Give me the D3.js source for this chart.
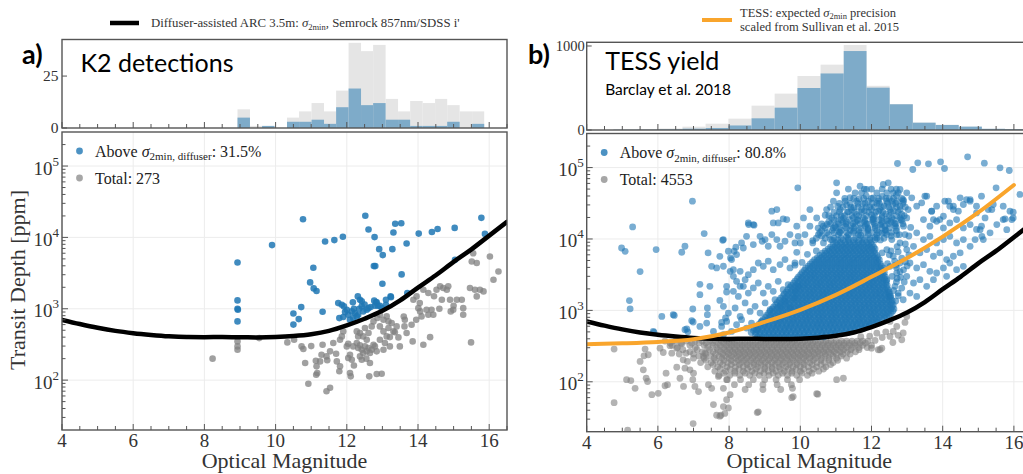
<!DOCTYPE html>
<html>
<head>
<meta charset="utf-8">
<script src="https://cdn.jsdelivr.net/npm/d3@7"></script>
<style>
  html, body { margin: 0; padding: 0; background: #fff; }
  svg { display: block; font-family: "Liberation Serif", "Times New Roman", serif; }
</style>
</head>
<body>
<svg id="chart" width="1023" height="474"></svg>
<script>
// ---------------------------------------------------------------------------
// Axis ticks
// ---------------------------------------------------------------------------
const magTicks = [4, 6, 8, 10, 12, 14, 16];
const magMinorTicks = [4.5, 5, 5.5, 6.5, 7, 7.5, 8.5, 9, 9.5, 10.5, 11, 11.5, 12.5, 13, 13.5, 14.5, 15, 15.5, 16.5];
const depthTicks = [1e2, 1e3, 1e4, 1e5];
const depthMinorTicks = [30, 40, 50, 60, 70, 80, 90, 200, 300, 400, 500, 600, 700, 800, 900,
  2000, 3000, 4000, 5000, 6000, 7000, 8000, 9000, 20000, 30000, 40000, 50000, 60000, 70000, 80000, 90000, 200000];
const k2HistTicks = [0, 25];
const tessHistTicks = [0, 1000];

// ---------------------------------------------------------------------------
// Precision curves (optical magnitude -> 2-minute precision, ppm)
// ---------------------------------------------------------------------------
const diffuserMag = [4, 4.5, 5, 5.5, 6, 6.5, 7, 7.5, 8, 8.5, 9, 9.5, 10, 10.5, 11, 11.5, 12, 12.5, 13, 13.5, 14, 14.5, 15, 15.5, 16, 16.5];
const diffuserPpm = [700, 612, 542, 490, 455, 430, 411, 401, 399, 402, 398, 397, 402, 415, 440, 490, 585, 725, 935, 1310, 1980, 2950, 4550, 6800, 10600, 16500];
const tessMag = [4, 5, 6, 7, 8, 9, 10, 11, 12, 13, 14, 15, 16];
const tessPpm = [336, 346, 362, 395, 490, 690, 1020, 1650, 2950, 5400, 10800, 23500, 57000];

// ---------------------------------------------------------------------------
// Magnitude histograms (bin edges, total counts, counts above the curve)
// ---------------------------------------------------------------------------
const k2BinEdges = [8.93, 9.28, 9.62, 9.97, 10.32, 10.66, 11.01, 11.36, 11.70, 12.05, 12.40,
  12.74, 13.09, 13.44, 13.78, 14.13, 14.48, 14.82, 15.17, 15.52, 15.86];
const k2TotalCounts = [9, 1, 1, 0, 5, 8, 12, 8, 18, 41, 37, 40, 14, 8, 13, 12, 14, 11, 8, 8];
const k2AboveCounts = [5, 0, 1, 0, 3, 3, 4, 2, 10, 19, 11, 12, 4, 4, 1, 1, 1, 3, 0, 2];

const tessBinEdges = [4.75, 5.40, 6.04, 6.69, 7.34, 7.98, 8.63, 9.28, 9.92, 10.57, 11.22,
  11.86, 12.51, 13.16, 13.80, 14.45, 15.10, 15.75, 16.39, 17.04, 17.69];
const tessTotalCounts = [6, 10, 18, 40, 75, 135, 290, 433, 643, 778, 1012, 526, 308, 87, 62, 40, 14, 10, 4, 2];
const tessAboveCounts = [3, 4, 8, 16, 24, 54, 139, 266, 500, 673, 940, 504, 306, 87, 60, 40, 14, 10, 4, 2];

// ---------------------------------------------------------------------------
// K2 detections: [optical magnitude, transit depth ppm]
// ---------------------------------------------------------------------------
const k2Above = [
  [8.93,4460],[8.93,1310],[8.93,1000],[8.94,970],[8.93,665],
  [9.90,7800],[10.77,18000],[10.50,860],[10.50,600],[10.65,716],[10.72,1055],[10.97,2340],[11.06,3750],
  [11.07,1930],[11.15,1770],[11.32,908],[11.39,8770],[11.65,9160],[11.89,10200],[12.52,20100],[12.61,12900],
  [12.78,10100],[12.76,3960],[12.80,3960],[12.91,6850],[13.01,5650],[13.00,2240],[13.31,11700],[13.36,15500],
  [13.53,15800],[13.28,6850],[13.54,3030],[13.68,8230],[14.02,11300],[14.39,11900],[14.55,13100],[15.03,13600],
  [15.78,18800],[15.88,11200],[15.04,4850],[13.70,1660],[13.24,1455],[13.10,1335],[13.10,1140],[12.82,1228],
  [12.87,1100],[11.76,1200],[11.86,1140],[11.92,1080],[12.17,1230],[12.31,1490],[12.37,1340],[12.42,1270],
  [12.61,1020],[12.84,1230],[13.23,1490],[12.98,1020],[11.79,740],[11.90,766],[12.04,825],[12.14,918],
  [12.23,870],[12.32,825],[12.46,918],[12.56,968],[12.67,1057],[12.79,1100],[12.09,702],[12.18,740],
  [12.28,782],[12.00,968],[12.42,1080],[12.77,1300],[12.93,1100],[11.95,900],[12.20,1000],[12.35,1000],[12.50,1150]
];
const k2Total = [
  [8.23,200],[8.93,349],[8.93,297],[8.93,267],[9.54,388],[10.33,338],[10.52,368],[10.73,297],[10.78,273],
  [10.83,174],[10.92,89],[11.13,187],[11.15,156],[11.17,126],[11.14,119],[11.25,183],[11.32,313],[11.29,227],
  [11.43,70],[11.53,78],[11.43,215],[11.53,253],[11.62,331],[11.70,234],[11.72,183],[11.79,133],[11.81,156],
  [11.86,410],[11.90,482],[11.81,368],[12.00,297],[12.04,324],[12.09,227],[12.14,193],[12.04,204],[12.09,126],
  [12.11,113],[12.18,297],[12.28,331],[12.32,282],[12.37,307],[12.42,267],[12.46,240],[12.51,297],[12.56,253],
  [12.61,282],[12.65,240],[12.70,267],[12.75,313],[12.37,215],[12.42,193],[12.28,482],[12.37,457],[12.51,537],
  [12.61,457],[12.70,566],[12.75,665],[12.65,174],[12.63,113],[12.84,122],[12.98,123],[12.79,297],[12.84,253],
  [12.93,368],[13.03,267],[13.07,331],[13.12,410],[13.17,537],[13.26,631],[13.31,482],[13.40,566],[13.21,297],
  [13.45,397],[13.49,297],[13.63,702],[13.62,566],[13.68,457],[13.82,597],[13.85,349],[12.86,741],[12.93,824],
  [13.03,702],[13.12,782],[13.17,665],[13.87,1340],[13.96,1490],[14.06,918],[14.10,782],[14.01,1020],[14.15,1850],
  [14.29,1660],[14.24,968],[14.29,825],[14.38,968],[14.43,825],[14.52,1850],[14.62,2060],[14.67,1340],[14.71,1950],
  [14.81,1850],[14.85,2060],[14.90,1340],[14.92,918],[14.99,968],[15.09,1340],[15.23,1340],[15.27,1020],[15.27,825],
  [15.46,1950],[15.60,1850],[15.65,1490],[15.74,1850],[15.84,1750],[15.51,4600],[15.55,6000],[15.65,4370],
  [16.02,5400],[16.12,2550],[16.26,3330],[15.49,338],[14.34,400],[14.15,313],[12.46,410],[12.56,368],[12.32,410],
  [12.93,566],[13.03,482],[13.21,401],[13.35,468],[14.05,1200],[14.45,1500],[13.95,700],[14.60,1000],[15.00,1100],
  [13.60,780],[11.00,300],[11.45,190],[12.20,160],[12.55,200]
];

// ---------------------------------------------------------------------------
// TESS yield: dense rows [depth ppm, [magnitudes]] and scattered points
// ---------------------------------------------------------------------------
const tessCoreRows = [
  [427, [8.8,8.93,9.05,9.18,9.3,9.42,9.55,9.67,9.8,9.92,10.05,10.17,10.3,10.42,10.55,10.67]],
  [490, [8.62,8.75,8.87,9.0,9.12,9.24,9.37,9.49,9.61,9.74,9.86,9.98,10.11,10.23,10.36,10.48,10.6,10.73,10.85,10.98,11.1,11.22,11.35]],
  [562, [8.7,8.82,8.95,9.07,9.2,9.32,9.44,9.57,9.69,9.81,9.94,10.06,10.18,10.3,10.43,10.55,10.67,10.8,10.92,11.04,11.17,11.29,11.41,11.54,11.66,11.78]],
  [646, [8.85,8.98,9.1,9.23,9.35,9.47,9.6,9.72,9.84,9.97,10.09,10.21,10.34,10.46,10.58,10.71,10.83,10.95,11.08,11.2,11.32,11.45,11.57,11.69,11.82,11.94,12.06]],
  [741, [8.95,9.08,9.2,9.33,9.45,9.57,9.7,9.82,9.94,10.07,10.19,10.31,10.44,10.56,10.68,10.81,10.93,11.05,11.18,11.3,11.42,11.55,11.67,11.79,11.92,12.04,12.16,12.29]],
  [851, [9.05,9.17,9.3,9.42,9.54,9.67,9.79,9.91,10.04,10.16,10.28,10.41,10.53,10.65,10.78,10.9,11.02,11.15,11.27,11.39,11.52,11.64,11.76,11.89,12.01,12.13,12.26,12.38,12.5]],
  [977, [9.15,9.28,9.4,9.52,9.65,9.77,9.89,10.02,10.14,10.26,10.39,10.51,10.63,10.76,10.88,11.0,11.13,11.25,11.37,11.5,11.62,11.74,11.87,11.99,12.11,12.24,12.36,12.48,12.6]],
  [1122, [9.25,9.37,9.5,9.62,9.74,9.87,9.99,10.11,10.24,10.36,10.48,10.61,10.73,10.85,10.98,11.1,11.22,11.35,11.47,11.59,11.72,11.84,11.96,12.09,12.21,12.33,12.46,12.58]],
  [1288, [9.35,9.47,9.6,9.72,9.84,9.97,10.09,10.21,10.34,10.46,10.58,10.71,10.83,10.95,11.08,11.2,11.32,11.45,11.57,11.69,11.82,11.94,12.06,12.19,12.31,12.43,12.56]],
  [1479, [9.45,9.58,9.7,9.82,9.95,10.07,10.19,10.32,10.44,10.56,10.69,10.81,10.93,11.06,11.18,11.3,11.43,11.55,11.67,11.8,11.92,12.04,12.17,12.29,12.41,12.53]],
  [1698, [9.55,9.67,9.8,9.92,10.04,10.17,10.29,10.41,10.54,10.66,10.78,10.91,11.03,11.15,11.28,11.4,11.52,11.65,11.77,11.89,12.02,12.14,12.26,12.39,12.5]],
  [1950, [9.65,9.78,9.9,10.02,10.15,10.27,10.39,10.52,10.64,10.76,10.89,11.01,11.13,11.26,11.38,11.5,11.63,11.75,11.87,12.0,12.12,12.24,12.37,12.47]],
  [2239, [9.75,9.87,10.0,10.12,10.24,10.37,10.49,10.61,10.74,10.86,10.98,11.11,11.23,11.35,11.48,11.6,11.72,11.85,11.97,12.09,12.22,12.34,12.44]],
  [2570, [9.85,9.98,10.1,10.22,10.35,10.47,10.59,10.72,10.84,10.96,11.09,11.21,11.33,11.46,11.58,11.7,11.83,11.95,12.07,12.2,12.32,12.42]],
  [2951, [9.95,10.07,10.2,10.32,10.44,10.57,10.69,10.81,10.94,11.06,11.18,11.31,11.43,11.55,11.68,11.8,11.92,12.05,12.17,12.29,12.39]],
  [3388, [10.05,10.18,10.3,10.42,10.55,10.67,10.79,10.92,11.04,11.16,11.29,11.41,11.53,11.66,11.78,11.9,12.03,12.15,12.27,12.36]],
  [3890, [10.15,10.28,10.4,10.52,10.65,10.77,10.89,11.02,11.14,11.26,11.39,11.51,11.63,11.76,11.88,12.0,12.13,12.25,12.33]],
  [4467, [10.28,10.4,10.53,10.65,10.77,10.9,11.02,11.14,11.27,11.39,11.51,11.64,11.76,11.88,12.01,12.13,12.25]],
  [5129, [10.4,10.52,10.65,10.77,10.89,11.02,11.14,11.26,11.39,11.51,11.63,11.76,11.88,12.0,12.13,12.22]],
  [5888, [10.55,10.67,10.8,10.92,11.04,11.17,11.29,11.41,11.54,11.66,11.78,11.91,12.03,12.15]],
  [6761, [10.7,10.82,10.95,11.07,11.19,11.32,11.44,11.56,11.69,11.81,11.93,12.06]],
  [7762, [10.85,10.97,11.1,11.22,11.34,11.47,11.59,11.71,11.84,11.96,12.06]],
  [8913, [11.0,11.12,11.25,11.37,11.49,11.62,11.74,11.86,11.98]],
  [10230, [10.45,10.7,10.95,11.15,11.35,11.55,11.75,11.95,12.15,12.35]],
  [11530, [9.71,10.13,10.51,10.79,11.07,11.35,11.63,11.91,12.15,12.43,12.71,12.94]],
  [13200, [10.6,10.9,11.15,11.4,11.65,11.9,12.15,12.4]],
  [15100, [9.9,10.27,10.65,10.97,11.26,11.54,11.82,12.1,12.38,12.66,12.9]],
  [17400, [10.8,11.05,11.3,11.55,11.8,12.05,12.3,12.55]],
  [19700, [10.09,10.46,10.88,11.21,11.49,11.77,12.05,12.29,12.57,12.8,12.99]],
  [25800, [10.27,10.74,11.12,11.44,11.72,12.0,12.24,12.52,12.8,13.03]],
  [33800, [10.93,11.26,11.58,11.91,12.19,12.43,12.57,12.71,12.9]],
  [44300, [11.02,11.54,11.72,12.15,12.43,12.61,12.75]]
];

// rows lying between the rows above, where the cloud is densest
const tessCoreMidRows = [
  [458, [8.74,8.87,8.99,9.12,9.24,9.36,9.49,9.61,9.73,9.86,9.98,10.11,10.23,10.36,10.48,10.61,10.73,10.86,10.97]],
  [525, [8.68,8.81,8.93,9.06,9.18,9.3,9.43,9.55,9.67,9.8,9.92,10.05,10.17,10.29,10.42,10.54,10.66,10.79,10.91,11.03,11.16,11.28,11.4,11.52]],
  [603, [8.76,8.89,9.01,9.13,9.26,9.38,9.51,9.63,9.75,9.88,10.0,10.12,10.25,10.37,10.49,10.62,10.74,10.86,10.99,11.11,11.23,11.36,11.48,11.6,11.73,11.85,11.94]],
  [692, [8.91,9.04,9.16,9.29,9.41,9.53,9.66,9.78,9.9,10.03,10.15,10.27,10.4,10.52,10.64,10.77,10.89,11.01,11.14,11.26,11.38,11.51,11.63,11.75,11.88,12.0,12.12,12.2]],
  [795, [9.01,9.14,9.26,9.39,9.51,9.63,9.76,9.88,10.0,10.13,10.25,10.37,10.5,10.62,10.74,10.87,10.99,11.11,11.24,11.36,11.48,11.61,11.73,11.85,11.98,12.1,12.22,12.35,12.43]],
  [912, [9.11,9.23,9.36,9.48,9.6,9.73,9.85,9.97,10.1,10.22,10.34,10.47,10.59,10.71,10.84,10.96,11.08,11.21,11.33,11.45,11.58,11.7,11.82,11.95,12.07,12.19,12.32,12.44,12.55]],
  [1047, [9.21,9.34,9.46,9.58,9.71,9.83,9.95,10.08,10.2,10.32,10.45,10.57,10.69,10.82,10.94,11.06,11.19,11.31,11.43,11.56,11.68,11.8,11.93,12.05,12.17,12.3,12.42,12.54,12.63]],
  [1202, [9.31,9.44,9.56,9.68,9.81,9.93,10.05,10.18,10.3,10.42,10.55,10.67,10.79,10.92,11.04,11.16,11.29,11.41,11.53,11.66,11.78,11.9,12.03,12.15,12.27,12.4,12.52,12.61]],
  [1380, [9.41,9.53,9.66,9.78,9.9,10.03,10.15,10.27,10.4,10.52,10.64,10.77,10.89,11.01,11.14,11.26,11.38,11.51,11.63,11.75,11.88,12.0,12.12,12.25,12.37,12.49,12.58]],
  [1585, [9.51,9.63,9.76,9.88,10.0,10.13,10.25,10.37,10.5,10.62,10.74,10.87,10.99,11.11,11.24,11.36,11.48,11.61,11.73,11.85,11.98,12.1,12.22,12.35,12.47,12.54]],
  [1820, [9.61,9.73,9.86,9.98,10.1,10.23,10.35,10.47,10.6,10.72,10.84,10.97,11.09,11.21,11.34,11.46,11.58,11.71,11.83,11.95,12.08,12.2,12.32,12.44,12.5]],
  [2090, [9.71,9.83,9.96,10.08,10.2,10.33,10.45,10.57,10.7,10.82,10.94,11.07,11.19,11.31,11.44,11.56,11.68,11.81,11.93,12.05,12.18,12.3,12.42]],
  [2400, [9.81,9.93,10.06,10.18,10.3,10.43,10.55,10.67,10.8,10.92,11.04,11.17,11.29,11.41,11.54,11.66,11.78,11.91,12.03,12.15,12.28,12.4]],
  [2754, [9.91,10.03,10.16,10.28,10.4,10.53,10.65,10.77,10.9,11.02,11.14,11.27,11.39,11.51,11.64,11.76,11.88,12.01,12.13,12.25,12.36]],
  [3162, [10.01,10.13,10.26,10.38,10.5,10.63,10.75,10.87,11.0,11.12,11.24,11.37,11.49,11.61,11.74,11.86,11.98,12.11,12.23,12.33]],
  [3630, [10.11,10.23,10.36,10.48,10.6,10.73,10.85,10.97,11.1,11.22,11.34,11.47,11.59,11.71,11.84,11.96,12.08,12.21,12.3]],
  [4169, [10.22,10.34,10.47,10.59,10.71,10.84,10.96,11.08,11.21,11.33,11.45,11.58,11.7,11.82,11.95,12.07,12.19,12.28]],
  [4786, [10.34,10.46,10.59,10.71,10.83,10.96,11.08,11.2,11.33,11.45,11.57,11.7,11.82,11.94,12.07,12.18]],
  [5495, [10.48,10.6,10.73,10.85,10.97,11.1,11.22,11.34,11.47,11.59,11.71,11.84,11.96,12.08,12.18]],
  [6310, [10.62,10.74,10.87,10.99,11.11,11.24,11.36,11.48,11.61,11.73,11.85,11.98,12.1]],
  [7244, [10.78,10.9,11.03,11.15,11.27,11.4,11.52,11.64,11.77,11.89,12.01,12.1]],
  [8318, [10.92,11.04,11.17,11.29,11.41,11.54,11.66,11.78,11.91,12.02]],
  [9700, [10.9,11.05,11.2,11.35,11.5,11.65,11.8,11.95,12.1,12.25]],
  [12300, [10.55,10.75,10.95,11.12,11.3,11.48,11.66,11.84,12.02,12.2,12.38,12.56]],
  [14300, [10.7,10.92,11.1,11.3,11.5,11.7,11.9,12.1,12.3,12.5,12.7]],
  [16300, [10.6,10.85,11.08,11.28,11.48,11.68,11.88,12.08,12.28,12.48,12.68,12.88]],
  [18600, [10.95,11.15,11.38,11.6,11.82,12.02,12.22,12.42,12.62,12.82]],
  [21200, [10.8,11.02,11.25,11.45,11.65,11.86,12.08,12.3,12.5,12.7,12.92]],
  [23800, [11.1,11.32,11.52,11.72,11.92,12.12,12.32,12.55,12.75]],
  [28000, [10.85,11.2,11.42,11.62,11.85,12.08,12.28,12.48,12.7,12.95]],
  [31500, [11.1,11.4,11.62,11.82,12.02,12.22,12.45,12.68,12.88]],
  [37000, [11.25,11.5,11.78,12.0,12.2,12.4,12.62,12.85]],
  [50000, [11.35,11.8,12.0,12.3,12.55,12.7]]
];

const tessAboveScatter = [
  [4.98,7480],[5.08,6710],[5.29,14760],[5.50,3490],[5.20,1370],[5.22,1050],[5.95,7100],[6.11,824],[6.43,871],
  [6.67,6520],[6.76,7910],[6.97,33800],[6.98,1045],[6.99,687],[6.76,536],[6.84,501],[7.18,2320],[7.18,1660],
  [7.30,11900],[7.39,1080],[7.39,871],[7.46,2170],[7.41,6370],[7.51,4140],[7.65,3930],[7.74,5710],[7.82,9590],
  [7.74,1380],[7.79,679],[7.90,782],[7.93,1810],[7.98,6730],[8.04,5420],[8.12,3720],[8.12,3000],[8.21,2550],
  [8.31,2170],[8.19,7660],[8.40,7480],[8.55,15900],[8.70,15600],[8.87,10900],[8.93,9290],[9.20,24500],
  [9.34,25800],[9.24,16800],[9.38,16800],[9.93,52000],[9.62,18700],[11.02,61100],[11.68,54800],[11.86,49300],
  [12.33,57900],[12.47,61100],[12.73,114000],[13.16,94000],[13.30,116400],[13.60,112700],[13.94,120200],
  [14.05,97000],[14.70,141600],[15.17,115300],[15.61,99300],[15.87,91000],[15.50,52000],[16.17,42000],
  [15.98,23700],[15.75,19100],[15.98,19700],[15.80,13500],[15.05,13500],[15.10,10900],[15.38,25800],[15.19,19700],
  [14.95,23200],[14.67,35600],[14.77,33800],[14.49,37700],[14.20,28800],[14.30,25800],[14.06,33800],[13.69,24500],
  [13.74,18700],[13.50,39700],[13.92,18700],[5.89,492],[6.46,851],[6.95,716],[6.81,550],[5.87,508],
  [7.84,9820],[8.14,6730],[8.35,8810],[8.49,10900],[8.68,8340],[9.01,9820],[9.10,7910],[9.20,11530],[9.34,9820],
  [9.43,7910],[9.57,9290],[9.85,8810],[9.94,10900],[8.54,16800],[8.68,15900],[9.52,19100],
  [7.84,4150],[8.03,3520],[8.07,5140],[8.21,6040],[8.31,3520],[8.45,2690],[8.54,3160],[8.68,3720],[8.82,4610],
  [8.96,4150],[9.10,4880],[9.24,3720],[9.43,4380],[9.57,5140],[9.71,3930],[9.85,4610],
  [7.93,2170],[8.12,1850],[8.26,1570],[8.40,2170],[8.54,1750],[8.68,2060],[8.82,2420],[8.96,1750],[9.10,2170],
  [9.24,1850],[9.38,2550],[9.52,1950],[9.66,2290],[9.85,1850],[9.94,2170],
  [7.84,1140],[7.98,918],[8.17,1080],[8.31,824],[8.45,1270],[8.59,968],[8.73,1140],[8.87,918],[9.01,1270],
  [9.15,1020],[9.29,1410],[9.43,1140],[9.57,1340],[9.71,1080],[9.85,1490],
  [7.79,597],[7.93,701],[8.07,508],[8.21,631],[8.35,741],[8.49,566],[8.63,665],[8.77,536],[8.91,701],
  [7.84,456],[7.56,508],[7.37,665],[7.18,597],
  [12.80,49300],[12.99,44300],[12.89,35600],[13.13,37700],[13.27,28800],[13.41,32100],[13.55,39700],[13.69,24500],
  [13.83,28800],[14.02,20800],[14.16,33800],[14.30,28800],[14.44,24500],[14.58,30400],[14.77,35600],[14.95,28800],
  [15.09,39700],[15.28,25800],[15.42,30400],[15.70,28800],[15.89,24500],[13.46,18700],[13.64,15100],[13.83,17700],
  [14.02,14300],[14.20,16800],[14.39,18700],[14.58,14300],[14.77,15900],[14.95,13600],[15.09,15100],[15.33,12200],
  [15.52,15900],[15.70,18700],[15.94,18700],[13.27,12200],[13.46,9800],[13.64,10900],[13.83,8810],[14.02,9800],
  [14.20,10900],[14.39,8810],[14.58,9800],[14.77,7900],[14.91,9800],[15.14,9800],[12.99,7100],[13.18,7900],
  [13.36,6370],[13.55,7100],[13.74,5730],[13.92,6370],[14.11,5140],[14.30,5730],[14.49,6370],[14.58,4140],
  [13.08,4610],[13.27,3930],[13.46,4370],[13.64,3520],[13.83,3340],[14.02,3930],[14.20,4610],[14.39,3720],
  [12.99,3000],[13.18,2420],[13.36,2690],[13.55,2170],[13.74,2690],[14.11,3000],[13.08,1750],[13.27,1570],[12.89,1410],
  [12.52,4140],[12.71,3340],[12.61,5730],[12.80,4610],[12.43,2690],[12.66,2170],[12.52,1570],[12.75,1750],
  [12.43,7100],[12.57,9800],[12.38,13500],[10.00,8810],[10.35,8810],[10.65,8810],[12.80,8810],
  [9.90,6500],[10.20,6100],[10.45,6800],[12.30,6400],[12.50,6000],[12.75,6600],[9.85,4300],[10.05,4700],[12.45,4500],[12.70,4000],
  [10.35,9500],[10.60,11000],[10.85,9800],[11.10,12500],[11.30,10800],[11.50,12800],[11.70,11200],[11.90,13800],
  [12.10,10500],[12.30,12000],[12.55,11000],[12.70,13000],[10.50,14200],[10.75,16000],[11.00,14500],[11.20,17200],
  [11.42,15200],[11.62,18200],[11.85,16200],[12.05,18800],[12.25,15800],[12.45,17800],[12.65,16500],[12.85,18200],
  [10.70,21500],[10.95,23500],[11.15,21000],[11.35,24000],[11.58,22000],[11.80,25000],[12.00,21800],[12.20,24500],
  [12.40,22500],[12.62,24800],[12.85,22000],[11.05,28500],[11.30,30000],[11.50,27500],[11.75,31000],[11.95,28000],
  [12.15,31500],[12.35,29000],[12.60,30500],[12.80,28800],[11.40,38000],[11.65,36500],[11.85,40000],[12.05,37500],
  [12.30,39500],[12.50,37000],[12.70,41000],
  [12.62,1900],[12.70,2500],[12.82,2900],[12.58,3000],[12.90,3700],[12.65,4900],[12.85,5400],[12.55,6800],
  [12.72,7800],[12.95,8500],[13.05,6000],[13.00,4200],[12.78,11500],[13.05,11000],[13.10,14500],
  [12.68,1350],[12.75,1600],[12.85,2050],[12.72,2800],[12.92,2500],[12.80,3500],[12.68,4300],[12.95,4800]
];

const tessBelowRows = [
  [372, [6.2,6.5,6.8,7.05,7.25,7.45,7.62,7.78,7.93,8.08,8.22,8.37,8.52,8.66,8.81,8.96,9.1,9.25,9.4,9.54,9.69,9.84,9.98,10.13,10.28,10.42,10.57,10.72,10.86,11.01,11.16,11.3,11.45,11.6,11.75,11.9]],
  [348, [6.35,6.65,6.95,7.15,7.35,7.53,7.7,7.85,8.0,8.15,8.3,8.44,8.59,8.74,8.89,9.03,9.18,9.33,9.47,9.62,9.77,9.91,10.06,10.21,10.35,10.5,10.65,10.79,10.94,11.09,11.23,11.38,11.53,11.68,11.83]],
  [324, [6.4,6.9,7.3,7.55,7.75,7.92,8.07,8.22,8.37,8.52,8.67,8.82,8.97,9.12,9.27,9.42,9.57,9.72,9.87,10.02,10.17,10.32,10.47,10.62,10.77,10.92,11.07,11.22,11.38,11.55,11.75,12.0]],
  [302, [6.55,7.05,7.4,7.65,7.84,8.0,8.15,8.3,8.45,8.6,8.75,8.9,9.05,9.2,9.35,9.5,9.65,9.8,9.95,10.1,10.25,10.4,10.55,10.7,10.85,11.0,11.15,11.3,11.47,11.65,11.88]],
  [282, [6.7,7.1,7.45,7.68,7.86,8.02,8.17,8.32,8.47,8.62,8.77,8.92,9.07,9.22,9.37,9.52,9.67,9.82,9.97,10.12,10.27,10.42,10.57,10.72,10.88,11.05,11.22,11.42,11.65]],
  [263, [6.9,7.25,7.55,7.76,7.94,8.1,8.25,8.4,8.55,8.7,8.85,9.0,9.15,9.3,9.45,9.6,9.75,9.9,10.05,10.2,10.35,10.5,10.65,10.8,10.96,11.13,11.32,11.55]],
  [245, [6.6,7.0,7.35,7.62,7.82,7.98,8.14,8.29,8.44,8.59,8.74,8.89,9.04,9.19,9.34,9.49,9.64,9.79,9.94,10.09,10.24,10.39,10.54,10.7,10.86,11.02,11.2,11.4]],
  [229, [7.15,7.48,7.72,7.9,8.07,8.23,8.39,8.55,8.71,8.87,9.03,9.19,9.35,9.51,9.67,9.83,9.99,10.15,10.32,10.5,10.7,10.92,11.15]],
  [214, [7.0,7.3,7.58,7.8,8.0,8.18,8.34,8.5,8.66,8.82,8.98,9.14,9.3,9.46,9.62,9.78,9.94,10.1,10.26,10.42,10.6,10.8,11.02,11.3]],
  [200, [7.35,7.62,7.86,8.06,8.25,8.42,8.6,8.77,8.94,9.11,9.28,9.45,9.63,9.8,9.98,10.17,10.37,10.58,10.8,11.05]],
  [186, [7.2,7.5,7.75,7.96,8.15,8.33,8.5,8.68,8.85,9.02,9.2,9.37,9.54,9.72,9.9,10.08,10.27,10.47,10.68,10.92]],
  [174, [7.55,7.82,8.06,8.29,8.5,8.7,8.9,9.1,9.3,9.5,9.7,9.9,10.1,10.33,10.58,10.85]],
  [162, [7.4,7.68,7.94,8.18,8.4,8.6,8.8,9.0,9.2,9.4,9.6,9.8,10.0,10.22,10.46,10.72]],
  [151, [7.75,8.03,8.28,8.52,8.76,9.0,9.21,9.43,9.66,9.88,10.1,10.37,10.65]],
  [141, [7.6,7.9,8.16,8.4,8.64,8.88,9.1,9.32,9.55,9.77,10.0,10.25,10.52]],
  [132, [7.85,8.16,8.45,8.72,8.98,9.24,9.5,9.76,10.04,10.33]],
  [123, [7.72,8.02,8.3,8.58,8.85,9.12,9.38,9.64,9.9,10.2]],
  [107, [7.95,8.32,8.68,9.0,9.32,9.64,9.98]],
  [91, [8.15,8.55,8.95,9.35,9.75]],
  [78, [8.45,8.95,9.45]]
];

const tessBelowScatter = [
  [4.77,287],[4.77,51],[5.12,107],[5.24,104],[5.36,81],[5.15,21],[5.50,193],[5.61,231],[5.59,147],[5.67,112],
  [5.71,101],[5.83,66],[6.01,69],[6.20,88],[6.06,296],[6.15,257],[6.53,160],[6.71,203],[6.76,155],[6.99,26],
  [7.56,48],[7.77,34],[7.88,36],[7.98,43],[8.79,37],[9.76,60],[10.49,67],[12.00,296],[12.24,281],[12.85,388],
  [5.64,287],[5.73,239],[6.23,132],[6.27,91],[6.34,320],[6.39,252],[6.62,112],[6.72,86],[6.53,296],[6.67,341],
  [6.79,252],[6.83,193],[6.90,147],[7.00,132],[6.98,107],[7.04,86],[7.14,73],[7.28,226],[7.32,252],[7.42,91],
  [7.51,81],[7.65,34],[7.74,33],[7.84,45],[7.93,56],[8.03,66],[7.70,119],[7.84,81],[7.93,107],[8.82,38],
  [9.80,62],[9.78,81],[10.46,68],[11.02,107],[11.21,112],[12.19,281],[12.29,296],[12.52,432],[12.61,508],
  [12.52,701],[12.71,597],[12.94,679],[12.99,824],[12.89,482],[12.30,417],[12.40,501],[12.10,380],[12.15,479],
  [11.95,437],[11.70,427],[12.60,355],[12.75,447]
];

// ---------------------------------------------------------------------------
// Drawing
// ---------------------------------------------------------------------------
const svg = d3.select('#chart');
const magDomain = [4, 16.5];
const depthDomain = [20, 3e5];
const frameColor = '#555';
const tickColor = '#555';
const labelColor = '#333';
const blue = '#1f77b4';
const grey = '#808080';
const titleFont = 'Lato, "Open Sans", sans-serif';

const rowsToPoints = rows => rows.flatMap(([depth, mags]) => mags.map(m => [m, depth]));

const panels = [
  {
    id: 'a', left: 62, right: 507, hTop: 39.5, hBottom: 128, top: 132, bottom: 430,
    histMax: 42.6, histTicks: k2HistTicks, edges: k2BinEdges, total: k2TotalCounts, above: k2AboveCounts,
    grey: k2Total, blue: k2Above, r: 3.3, blueOpacity: 0.85, greyOpacity: 0.75,
    label: 'a)', labelX: 22, title: 'K2 detections', titleY: 71.5, subtitle: null,
    percent: '31.5%', count: '273', orange: false
  },
  {
    id: 'b', left: 586.7, right: 1031.7, hTop: 42.3, hBottom: 130, top: 133.5, bottom: 431.7,
    histMax: 1044, histTicks: tessHistTicks, edges: tessBinEdges, total: tessTotalCounts, above: tessAboveCounts,
    grey: tessBelowScatter.concat(rowsToPoints(tessBelowRows)),
    blue: tessAboveScatter.concat(rowsToPoints(tessCoreRows), rowsToPoints(tessCoreMidRows)),
    r: 3.4, blueOpacity: 0.6, greyOpacity: 0.6,
    label: 'b)', labelX: 528, title: 'TESS yield', titleY: 69.5, subtitle: 'Barclay et al. 2018',
    percent: '80.8%', count: '4553', orange: true
  }
];

const defs = svg.append('defs');

panels.forEach(p => {
  const x = d3.scaleLinear().domain(magDomain).range([p.left, p.right]);
  const y = d3.scaleLog().domain(depthDomain).range([p.bottom, p.top]);
  const yh = d3.scaleLinear().domain([0, p.histMax]).range([p.hBottom, p.hTop]);
  const g = svg.append('g').attr('class', 'panel-' + p.id);

  defs.append('clipPath').attr('id', 'clip-' + p.id)
    .append('rect').attr('x', p.left).attr('y', p.top)
    .attr('width', p.right - p.left).attr('height', p.bottom - p.top);
  defs.append('clipPath').attr('id', 'hclip-' + p.id)
    .append('rect').attr('x', p.left).attr('y', p.hTop)
    .attr('width', p.right - p.left).attr('height', p.hBottom - p.hTop);

  // ---- histogram ----
  const hg = g.append('g').attr('clip-path', `url(#hclip-${p.id})`);
  const bins = p.total.map((c, i) => ({ x0: p.edges[i], x1: p.edges[i + 1], total: c, above: p.above[i] }));
  hg.selectAll('rect.total').data(bins).join('rect').attr('class', 'total')
    .attr('x', d => x(d.x0)).attr('width', d => x(d.x1) - x(d.x0))
    .attr('y', d => yh(d.total)).attr('height', d => yh(0) - yh(d.total))
    .attr('fill', '#e5e5e5');
  hg.selectAll('rect.above').data(bins).join('rect').attr('class', 'above')
    .attr('x', d => x(d.x0)).attr('width', d => x(d.x1) - x(d.x0))
    .attr('y', d => yh(d.above)).attr('height', d => yh(0) - yh(d.above))
    .attr('fill', '#7eabc9');

  // histogram ticks (inward)
  g.append('g').selectAll('line').data(magMinorTicks.concat(magTicks)).join('line')
    .attr('x1', d => x(d)).attr('x2', d => x(d))
    .attr('y1', p.hBottom).attr('y2', d => p.hBottom - (magTicks.includes(d) ? 6 : 4))
    .attr('stroke', tickColor).attr('stroke-width', 1);
  g.append('g').selectAll('line').data(p.histTicks).join('line')
    .attr('x1', p.left).attr('x2', p.left + 5)
    .attr('y1', d => yh(d)).attr('y2', d => yh(d))
    .attr('stroke', tickColor).attr('stroke-width', 1);
  g.append('g').selectAll('text').data(p.histTicks).join('text')
    .attr('x', p.left - (p.id === 'a' ? 3.5 : 2)).attr('y', d => yh(d)).attr('dy', '0.35em')
    .attr('text-anchor', 'end').attr('font-size', p.id === 'a' ? 15.5 : 14.5).attr('fill', labelColor)
    .text(d => d);
  g.append('rect').attr('x', p.left).attr('y', p.hTop)
    .attr('width', p.right - p.left).attr('height', p.hBottom - p.hTop)
    .attr('fill', 'none').attr('stroke', frameColor).attr('stroke-width', 1.4);

  // ---- scatter: grid ----
  const sg = g.append('g');
  sg.append('g').selectAll('line').data(magTicks).join('line')
    .attr('x1', d => x(d)).attr('x2', d => x(d)).attr('y1', p.top).attr('y2', p.bottom)
    .attr('stroke', '#ececec').attr('stroke-width', 1);
  sg.append('g').selectAll('line').data(depthTicks).join('line')
    .attr('x1', p.left).attr('x2', p.right).attr('y1', d => y(d)).attr('y2', d => y(d))
    .attr('stroke', '#ececec').attr('stroke-width', 1);

  // ---- scatter: points ----
  const pg = g.append('g').attr('clip-path', `url(#clip-${p.id})`);
  pg.append('g').selectAll('circle').data(p.grey).join('circle')
    .attr('cx', d => x(d[0])).attr('cy', d => y(d[1])).attr('r', p.r)
    .attr('fill', grey).attr('fill-opacity', p.greyOpacity);
  pg.append('g').selectAll('circle').data(p.blue).join('circle')
    .attr('cx', d => x(d[0])).attr('cy', d => y(d[1])).attr('r', p.r)
    .attr('fill', blue).attr('fill-opacity', p.blueOpacity);

  // ---- curves ----
  const line = d3.line().x(d => x(d[0])).y(d => y(d[1])).curve(d3.curveMonotoneX);
  pg.append('path').datum(diffuserMag.map((m, i) => [m, diffuserPpm[i]]))
    .attr('d', line).attr('fill', 'none').attr('stroke', '#000')
    .attr('stroke-width', 4.5).attr('stroke-linecap', 'round');
  if (p.orange) {
    pg.append('path').datum(tessMag.map((m, i) => [m, tessPpm[i]]))
      .attr('d', line).attr('fill', 'none').attr('stroke', '#f9a52c')
      .attr('stroke-width', 4).attr('stroke-linecap', 'round');
  }

  // ---- scatter axes ----
  const ag = g.append('g');
  ag.selectAll('line.xmaj').data(magTicks).join('line').attr('class', 'xmaj')
    .attr('x1', d => x(d)).attr('x2', d => x(d)).attr('y1', p.bottom).attr('y2', p.bottom - 6)
    .attr('stroke', tickColor);
  ag.selectAll('line.xmin').data(magMinorTicks).join('line').attr('class', 'xmin')
    .attr('x1', d => x(d)).attr('x2', d => x(d)).attr('y1', p.bottom).attr('y2', p.bottom - 4)
    .attr('stroke', tickColor);
  ag.selectAll('line.ymaj').data(depthTicks).join('line').attr('class', 'ymaj')
    .attr('x1', p.left).attr('x2', p.left + 6).attr('y1', d => y(d)).attr('y2', d => y(d))
    .attr('stroke', tickColor);
  ag.selectAll('line.ymin').data(depthMinorTicks).join('line').attr('class', 'ymin')
    .attr('x1', p.left).attr('x2', p.left + 3.5).attr('y1', d => y(d)).attr('y2', d => y(d))
    .attr('stroke', tickColor);

  ag.selectAll('text.xlab').data(magTicks).join('text').attr('class', 'xlab')
    .attr('x', d => x(d)).attr('y', p.bottom + 17).attr('text-anchor', 'middle')
    .attr('font-size', 19).attr('fill', labelColor).text(d => d);

  const ylab = ag.selectAll('text.ylab').data(depthTicks).join('text').attr('class', 'ylab')
    .attr('x', p.left - 3).attr('y', d => y(d) + 8.5).attr('text-anchor', 'end')
    .attr('font-size', 19).attr('fill', labelColor);
  ylab.append('tspan').text('10');
  ylab.append('tspan').attr('font-size', 13).attr('dy', -9).text(d => Math.round(Math.log10(d)));

  ag.append('rect').attr('x', p.left).attr('y', p.top)
    .attr('width', p.right - p.left).attr('height', p.bottom - p.top)
    .attr('fill', 'none').attr('stroke', frameColor).attr('stroke-width', 1.4);

  // x-axis title
  g.append('text').attr('x', (p.left + p.right) / 2).attr('y', 467.5)
    .attr('text-anchor', 'middle').attr('font-size', 22).attr('fill', labelColor)
    .text('Optical Magnitude');

  // ---- in-plot legend ----
  const lg = g.append('g');
  const lx = p.left + 17.5;
  const ly1 = p.top + 19, ly2 = p.top + 46;
  lg.append('circle').attr('cx', lx).attr('cy', ly1).attr('r', 3.4).attr('fill', blue).attr('fill-opacity', 0.8);
  lg.append('circle').attr('cx', lx).attr('cy', ly2).attr('r', 3.4).attr('fill', grey).attr('fill-opacity', 0.7);
  const t1 = lg.append('text').attr('x', lx + 15.5).attr('y', ly1 + 5.5).attr('font-size', 16).attr('fill', '#222');
  t1.append('tspan').text('Above ');
  t1.append('tspan').attr('font-style', 'italic').text('σ');
  t1.append('tspan').attr('font-size', 11).attr('dy', 3.5).text('2min, diffuser');
  t1.append('tspan').attr('dy', -3.5).text(': ' + p.percent);
  lg.append('text').attr('x', lx + 15.5).attr('y', ly2 + 5.5).attr('font-size', 16).attr('fill', '#222')
    .text('Total: ' + p.count);

  // ---- panel label and titles ----
  g.append('text').attr('x', p.labelX).attr('y', 63.5)
    .attr('font-family', titleFont).attr('font-weight', 700)
    .attr('font-size', 27).attr('fill', '#000').text(p.label);
  g.append('text').attr('x', p.left + 18.5).attr('y', p.titleY)
    .attr('font-family', titleFont).attr('font-size', 25)
    .attr('fill', '#000').text(p.title);
  if (p.subtitle) {
    g.append('text').attr('x', p.left + 18.5).attr('y', 95)
      .attr('font-family', titleFont).attr('font-size', 15.5)
      .attr('fill', '#000').text(p.subtitle);
  }
});

// y-axis title (shared)
svg.append('text').attr('transform', 'translate(25,280) rotate(-90)')
  .attr('text-anchor', 'middle').attr('font-size', 22).attr('fill', labelColor)
  .text('Transit Depth [ppm]');

// ---- figure legends above the panels ----
const topLeg = svg.append('g');
topLeg.append('line').attr('x1', 110).attr('x2', 139).attr('y1', 23).attr('y2', 23)
  .attr('stroke', '#000').attr('stroke-width', 4.5);
const tl = topLeg.append('text').attr('x', 151).attr('y', 27).attr('font-size', 12.8).attr('fill', '#333');
tl.append('tspan').text('Diffuser-assisted ARC 3.5m: ');
tl.append('tspan').attr('font-style', 'italic').text('σ');
tl.append('tspan').attr('font-size', 8.5).attr('dy', 2.5).text('2min');
tl.append('tspan').attr('dy', -2.5).text(", Semrock 857nm/SDSS i'");

topLeg.append('line').attr('x1', 702).attr('x2', 732).attr('y1', 20).attr('y2', 20)
  .attr('stroke', '#f9a52c').attr('stroke-width', 4);
const tr = topLeg.append('text').attr('x', 740).attr('y', 17).attr('font-size', 12.5).attr('fill', '#333');
tr.append('tspan').text('TESS: expected ');
tr.append('tspan').attr('font-style', 'italic').text('σ');
tr.append('tspan').attr('font-size', 8.5).attr('dy', 2).text('2min');
tr.append('tspan').attr('dy', -2).text(' precision');
topLeg.append('text').attr('x', 740).attr('y', 30.5).attr('font-size', 12.5).attr('fill', '#333')
  .text('scaled from Sullivan et al. 2015');
</script>
</body>
</html>
